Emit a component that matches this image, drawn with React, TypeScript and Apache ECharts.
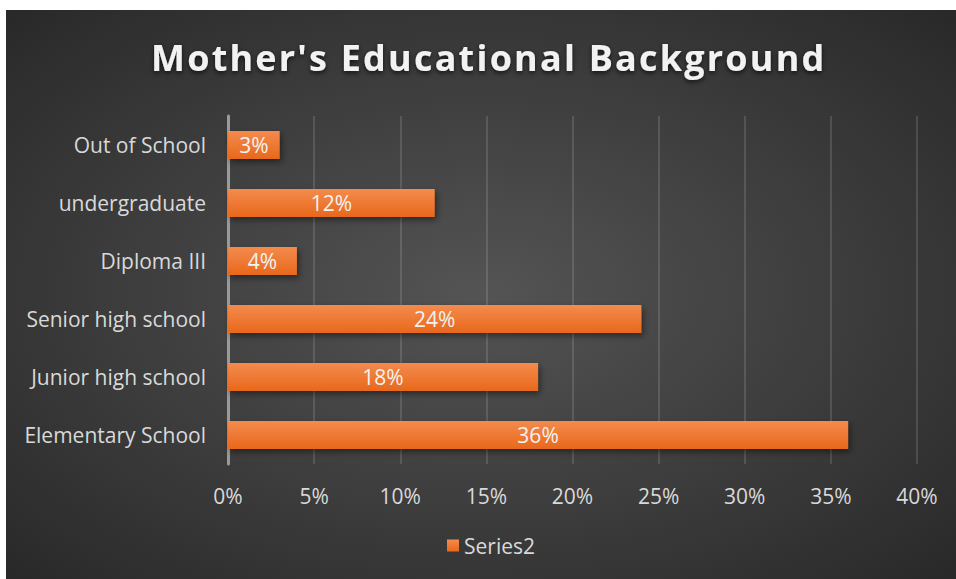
import React, { useEffect, useRef } from "react";
import * as echarts from "echarts";

const categories = [
  "Elementary School",
  "Junior high school",
  "Senior high school",
  "Diploma III",
  "undergraduate",
  "Out of School",
];
const values = [36, 18, 24, 4, 12, 3];
const seriesName = "Series2";
const titleText = "Mother's Educational Background";

export default function App() {
  const ref = useRef<HTMLDivElement>(null);
  useEffect(() => {
    if (!ref.current) return;
    const chart = echarts.init(ref.current, null, { renderer: "svg" });
    chart.setOption({
      animation: false,
      backgroundColor: {
        type: "radial",
        x: 0.5,
        y: 0.5,
        r: 0.75,
        colorStops: [
          { offset: 0, color: "#545454" },
          { offset: 1, color: "#262626" },
        ],
      },
      title: {
        text: titleText,
        left: 140,
        top: 24,
        textStyle: {
          color: "#f2f2f2",
          fontFamily: "Open Sans",
          fontWeight: "bold",
          fontSize: 36,
          textShadowColor: "rgba(0,0,0,0.7)",
          textShadowBlur: 5,
          textShadowOffsetY: 2,
        },
      },
      legend: {
        bottom: 18,
        left: 436,
        itemWidth: 12,
        itemHeight: 12,
        icon: "rect",
        itemGap: 4,
        textStyle: { color: "#d9d9d9", fontSize: 21, fontFamily: "Open Sans" },
        data: [seriesName],
      },
      grid: { left: 222, right: 39, top: 106, bottom: 115, containLabel: false },
      xAxis: {
        type: "value",
        min: 0,
        max: 40,
        interval: 5,
        axisLine: { show: false },
        axisTick: { show: false },
        axisLabel: {
          formatter: "{value}%",
          color: "#d9d9d9",
          fontSize: 21,
          fontFamily: "Open Sans",
          margin: 21,
        },
        splitLine: { lineStyle: { color: "rgba(255,255,255,0.13)", width: 2 } },
      },
      yAxis: {
        type: "category",
        data: categories,
        axisTick: { show: false },
        axisLine: { lineStyle: { color: "#9a9a9a", width: 3 } },
        axisLabel: {
          color: "#d9d9d9",
          fontSize: 21,
          fontFamily: "Open Sans",
          margin: 22,
        },
      },
      series: [
        {
          name: seriesName,
          type: "bar",
          data: values,
          barWidth: 28,
          itemStyle: {
            color: {
              type: "linear",
              x: 0,
              y: 0,
              x2: 0,
              y2: 1,
              colorStops: [
                { offset: 0, color: "#f48b4d" },
                { offset: 1, color: "#e8681b" },
              ],
            },
            shadowColor: "rgba(0,0,0,0.45)",
            shadowBlur: 6,
            shadowOffsetX: 2,
            shadowOffsetY: 3,
          },
          label: {
            show: true,
            position: "inside",
            formatter: "{c}%",
            color: "#f2f2f2",
            fontSize: 21,
            fontFamily: "Open Sans",
          },
        },
      ],
    });
    // widen the title's letter spacing, as in the reference
    const texts = ref.current.querySelectorAll("text");
    texts.forEach((t) => {
      if (t.textContent === titleText) {
        (t as SVGTextElement).style.letterSpacing = "2.2px";
      }
    });
    return () => chart.dispose();
  }, []);
  return (
    <div
      ref={ref}
      style={{ position: "absolute", left: 6, top: 10, width: 950, height: 569 }}
    />
  );
}
